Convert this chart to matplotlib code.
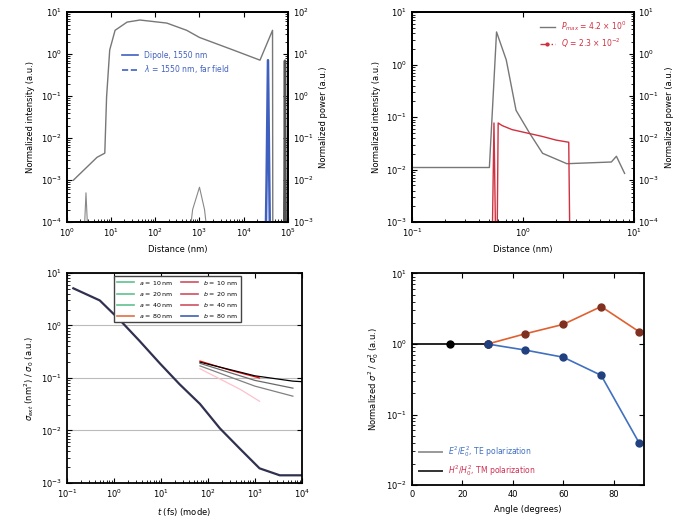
import numpy as np
import matplotlib
matplotlib.use('Agg')
import matplotlib.pyplot as plt
from matplotlib.lines import Line2D

plt.rcParams['font.family'] = ['DejaVu Sans']
plt.rcParams['font.size'] = 6
plt.rcParams['axes.linewidth'] = 1.3
plt.rcParams['xtick.direction'] = 'in'
plt.rcParams['ytick.direction'] = 'in'

# ---- top-left data ----
tl_x = [1.4, 4.8, 7.2, 7.9, 9.3, 12.3, 23, 45, 182, 513, 1000, 5750, 23400, 45000, 45700]
tl_y = [1e-3, 3.5e-3, 4.4e-3, 0.095, 1.26, 3.7, 5.8, 6.5, 5.5, 3.7, 2.5, 1.26, 0.72, 3.7, 1e-5]
tl_spike_x = [30000, 33000, 35500, 38000, 41000]
tl_spike_y = [1e-5, 0.01, 7.2, 0.01, 1e-5]
tl_edge_x = [80000, 84000, 86000, 88000, 92000]
tl_edge_y = [1e-5, 0.01, 7.0, 0.01, 1e-5]
tl_bump_x = [2.3, 2.7, 3.2, np.nan, 500, 700, 1000, 1300, 1800]
tl_bump_y = [1e-4, 5e-3, 1e-4, np.nan, 1e-4, 2e-3, 6.8e-3, 2e-3, 1e-4]

# ---- top-right data ----
tr_x = [0.1, 0.4, 0.5, 0.58, 0.71, 0.87, 1.15, 1.51, 2.5, 6.3, 7.0, 8.3]
tr_y = [0.011, 0.011, 0.011, 4.2, 1.23, 0.135, 0.05, 0.0205, 0.013, 0.014, 0.018, 0.0085]
tr_red_x = [0.52, 0.55, 0.58, 0.6, 0.65, 0.8, 1.0, 1.5, 2.0, 2.6, 2.7]
tr_red_y = [1e-6, 0.023, 1e-6, 0.023, 0.02, 0.016, 0.014, 0.011, 0.009, 0.008, 1e-6]

# ---- bottom-left data ----
bl_x = [0.137, 0.5, 1.35, 3.5, 9.5, 25, 68, 180, 480, 1260, 3400, 10000]
bl_y = [5.1, 3.0, 1.26, 0.51, 0.19, 0.076, 0.032, 0.011, 0.0045, 0.0019, 0.0014, 0.0014]
bl_lines = {
    'red':     ([68, 300, 1260], [0.21, 0.14, 0.10]),
    'black':   ([68, 1000, 6460, 10000], [0.20, 0.11, 0.087, 0.085]),
    'dimgray': ([68, 1000, 6460], [0.19, 0.09, 0.064]),
    'gray':    ([68, 1000, 6460], [0.17, 0.07, 0.045]),
    'pink':    ([68, 500, 1260], [0.15, 0.06, 0.036]),
}
bl_leg_labels = ['$a$ = 10 nm', '$a$ = 20 nm', '$a$ = 40 nm', '$a$ = 80 nm',
                 '$b$ = 10 nm', '$b$ = 20 nm', '$b$ = 40 nm', '$b$ = 80 nm']
bl_leg_colors = ['#60c090', '#60c090', '#60c090', '#e07040',
                 '#d05060', '#d05060', '#d05060', '#4060b0']

# ---- bottom-right data ----
angle = [0, 15, 30, 45, 60, 75, 90]
ratio_up = [1.0, 1.0, 1.0, 1.4, 1.9, 3.4, 1.5]
ratio_dn = [1.0, 1.0, 1.0, 0.82, 0.65, 0.36, 0.04]

fig = plt.figure(figsize=(6.97, 5.29), dpi=100)

# top-left
ax1 = fig.add_axes([0.096, 0.580, 0.317, 0.397])
ax1.plot(tl_x, tl_y, color='#777777', lw=1.0)
ax1.set_xscale('log')
ax1.set_yscale('log')
ax1.set_xlim(1, 1e5)
ax1.set_ylim(1e-4, 1e1)
ax1.set_xlabel('Distance (nm)')
ax1.set_ylabel('Normalized intensity (a.u.)')
ax1.tick_params(top=True)
ax1b = ax1.twinx()
ax1b.plot(tl_spike_x, tl_spike_y, color='#4060c0', lw=1.8)
ax1b.plot(tl_edge_x, tl_edge_y, color='#555555', lw=1.8)
ax1b.plot(tl_bump_x, tl_bump_y, color='#888888', lw=0.8)
ax1b.set_yscale('log')
ax1b.set_ylim(1e-3, 1e2)
ax1b.set_ylabel('Normalized power (a.u.)')
ax1b.tick_params(direction='in')
hl = [Line2D([], [], color='#4060c0', lw=1.2), Line2D([], [], color='#4060c0', lw=1.2, ls='--')]
ax1.legend(hl, ['Dipole, 1550 nm', '$\\lambda$ = 1550 nm, far field'],
           loc='upper left', bbox_to_anchor=(0.22, 0.85), frameon=False,
           labelcolor='#4060c0', fontsize=5.5)

# top-right
ax2 = fig.add_axes([0.591, 0.580, 0.318, 0.397])
ax2.plot(tr_x, tr_y, color='#777777', lw=1.0)
ax2.set_xscale('log')
ax2.set_yscale('log')
ax2.set_xlim(0.1, 10)
ax2.set_ylim(1e-3, 1e1)
ax2.set_xlabel('Distance (nm)')
ax2.set_ylabel('Normalized intensity (a.u.)')
ax2.tick_params(top=True)
ax2b = ax2.twinx()
ax2b.plot(tr_red_x, tr_red_y, color='#d03040', lw=1.0)
ax2b.set_yscale('log')
ax2b.set_ylim(1e-4, 1e1)
ax2b.set_ylabel('Normalized power (a.u.)')
ax2b.tick_params(direction='in')
hl2 = [Line2D([], [], color='#777777', lw=1.0),
       Line2D([], [], color='#d03040', lw=1.0, ls='-.', marker='o', ms=2)]
ax2.legend(hl2, ['$P_{max}$ = 4.2 $\\times$ 10$^{0}$', '$Q$ = 2.3 $\\times$ 10$^{-2}$'],
           loc='upper right', frameon=False, labelcolor='#d03040', fontsize=5.5)

# bottom-left
ax3 = fig.add_axes([0.096, 0.087, 0.337, 0.397])
ax3.plot(bl_x, bl_y, color='#303050', lw=1.6)
for c, (xs, ys) in bl_lines.items():
    ax3.plot(xs, ys, color=c, lw=0.9)
ax3.set_xscale('log')
ax3.set_yscale('log')
ax3.set_xlim(0.1, 1e4)
ax3.set_ylim(1e-3, 1e1)
ax3.yaxis.grid(True, which='major', color='#bbbbbb', lw=0.8)
ax3.set_xlabel('$t$ (fs) (mode)')
ax3.set_ylabel('$\\sigma_{ext}$ (nm$^2$) / $\\sigma_0$ (a.u.)')
ax3.tick_params(top=True, right=True)
hl3 = [Line2D([], [], color=c, lw=1.2) for c in bl_leg_colors]
ax3.legend(hl3, bl_leg_labels, ncol=2, loc='upper center', bbox_to_anchor=(0.47, 1.0),
           fontsize=4.5, handlelength=2.8, columnspacing=1.2, framealpha=1,
           edgecolor='#444444', fancybox=False)

# bottom-right
ax4 = fig.add_axes([0.591, 0.083, 0.333, 0.400])
ax4.plot(angle[:3], ratio_up[:3], color='black', lw=1.2, marker='o', ms=5, markevery=[1, 2])
ax4.plot(angle[2:], ratio_up[2:], color='#e06030', lw=1.2, marker='o', ms=5, mfc='#803020', mec='#803020')
ax4.plot(angle[2:], ratio_dn[2:], color='#4070c0', lw=1.2, marker='o', ms=5, mfc='#204080', mec='#204080')
ax4.set_yscale('log')
ax4.set_xlim(0, 92)
ax4.set_ylim(1e-2, 1e1)
ax4.set_xticks([0, 20, 40, 60, 80])
ax4.set_xlabel('Angle (degrees)')
ax4.set_ylabel('Normalized $\\sigma^{2}$ / $\\sigma_0^{2}$ (a.u.)')
ax4.tick_params(top=True, right=True)
hl4 = [Line2D([], [], color='#999999', lw=1.4), Line2D([], [], color='#333333', lw=1.4)]
ax4.legend(hl4, ['$E^2/E_0^2$, TE polarization', '$H^2/H_0^2$, TM polarization'],
           loc='lower left', frameon=False, fontsize=5.5, handlelength=3,
           labelcolor=['#4070c0', '#d03050'])

fig.savefig('out.png', dpi=100)
